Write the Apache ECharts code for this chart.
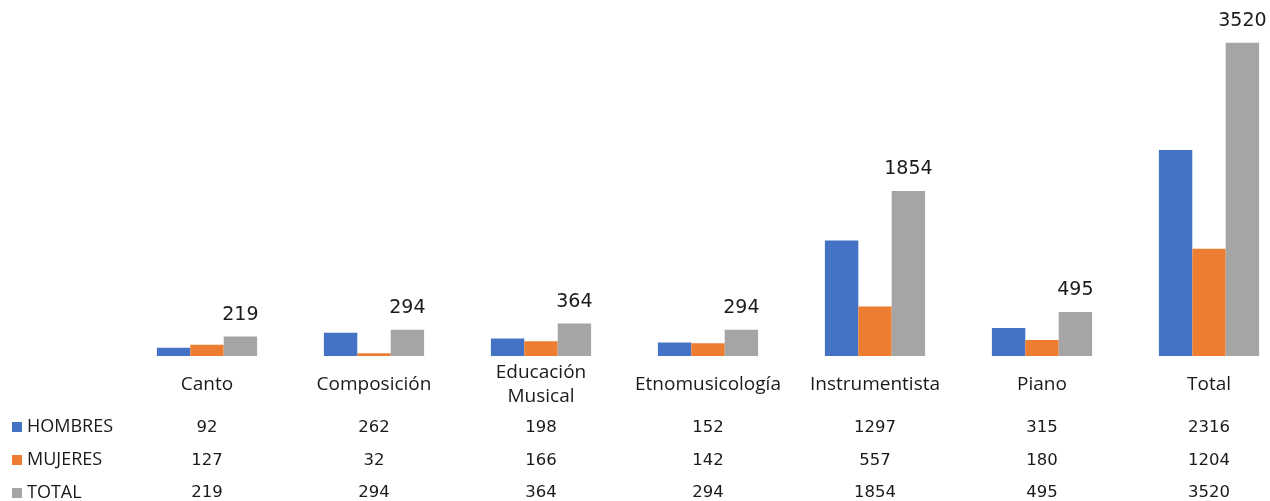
<!DOCTYPE html>
<html>
<head>
<meta charset="utf-8">
<script src="https://cdn.jsdelivr.net/npm/echarts@6/dist/echarts.min.js"></script>
<style>html,body{margin:0;padding:0;background:#fff;}#c{width:1270px;height:501px;}</style>
</head>
<body>
<div id="c"></div>
<script>
const categories = ['Canto', 'Composición', 'Educación\nMusical', 'Etnomusicología', 'Instrumentista', 'Piano', 'Total'];
const seriesNames = ['HOMBRES', 'MUJERES', 'TOTAL'];
const hombres = [92, 262, 198, 152, 1297, 315, 2316];
const mujeres = [127, 32, 166, 142, 557, 180, 1204];
const total = [219, 294, 364, 294, 1854, 495, 3520];
const colors = ['#4472C4', '#ED7D31', '#A5A5A5'];

const numFont = 'DejaVu Sans';
const txtFont = 'Open Sans';
const txtColor = '#1a1a1a';

function tableAxis(values, offset) {
  return {
    type: 'category', gridIndex: 0, position: 'bottom', offset: offset,
    data: values.map(String),
    axisLine: { show: false }, axisTick: { show: false },
    axisLabel: { margin: 0, verticalAlign: 'middle', fontFamily: numFont, fontSize: 16.5, color: txtColor, interval: 0 }
  };
}

const chart = echarts.init(document.getElementById('c'));
chart.setOption({
  animation: false,
  color: colors,
  grid: { left: 123.5, width: 1169, top: 0, bottom: 145, containLabel: false, outerBoundsMode: 'none' },
  legend: {
    orient: 'vertical', left: 12, top: 418, height: 90, padding: 0, itemWidth: 10, itemHeight: 10, itemGap: 15,
    icon: 'rect', data: seriesNames,
    textStyle: { fontFamily: txtFont, fontSize: 18, color: txtColor }
  },
  xAxis: [
    {
      type: 'category', data: categories,
      axisLine: { show: false }, axisTick: { show: false },
      axisLabel: { margin: 29, verticalAlign: 'middle', lineHeight: 24, fontFamily: txtFont, fontSize: 19, color: txtColor, interval: 0 }
    },
    tableAxis(hombres, 72),
    tableAxis(mujeres, 105),
    tableAxis(total, 137)
  ],
  yAxis: { type: 'value', min: 0, max: 4000, show: false, splitLine: { show: false } },
  series: [
    { name: seriesNames[0], type: 'bar', data: hombres, barGap: '0%', barCategoryGap: '40%' },
    { name: seriesNames[1], type: 'bar', data: mujeres, barGap: '0%', barCategoryGap: '40%' },
    { name: seriesNames[2], type: 'bar', data: total, barGap: '0%', barCategoryGap: '40%',
      label: { show: true, position: 'top', distance: 12, fontFamily: numFont, fontSize: 19, color: txtColor } }
  ]
});
</script>
</body>
</html>
